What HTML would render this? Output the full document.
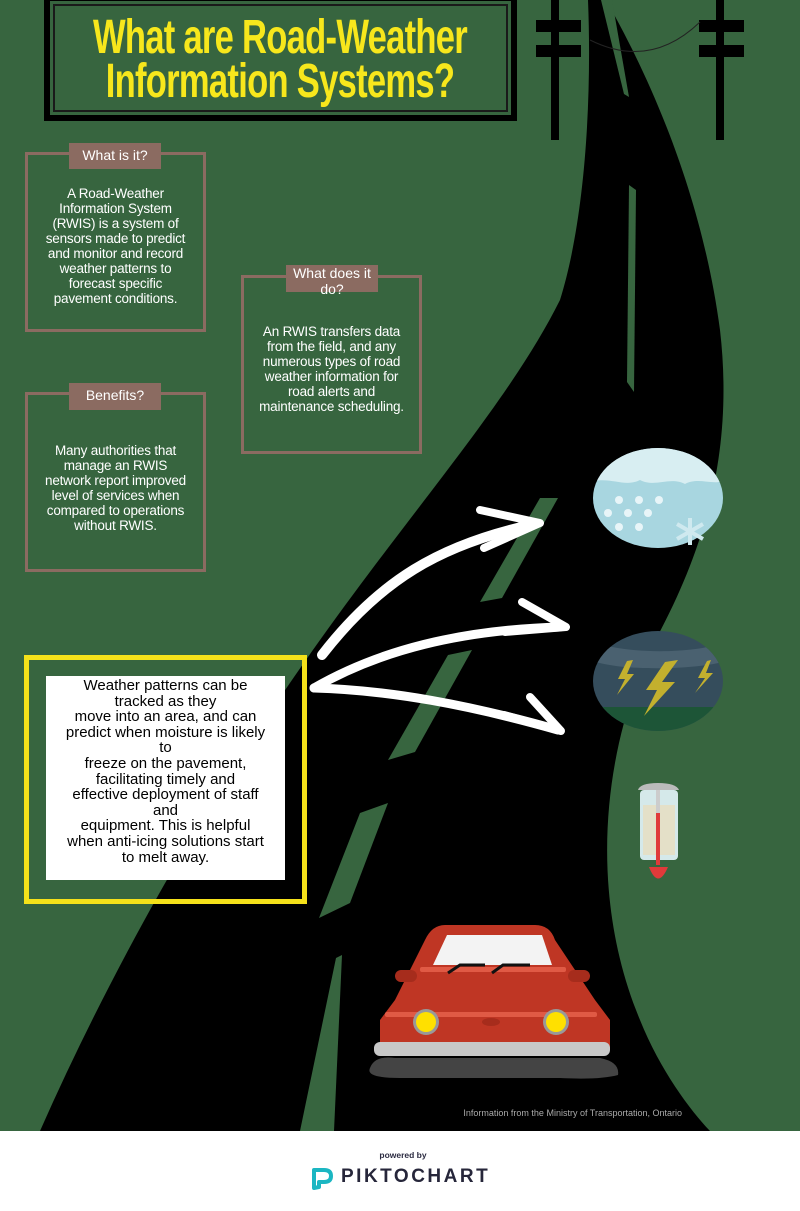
<!DOCTYPE html>
<html><head><meta charset="utf-8"><style>
*{margin:0;padding:0;box-sizing:border-box}
body{width:800px;height:1211px;position:relative;overflow:hidden;background:#fff;font-family:"Liberation Sans",sans-serif}
#main{position:absolute;left:0;top:0;width:800px;height:1131px;background:#37653f;overflow:hidden}
.box{position:absolute;border:3px solid #8b6b61}
.lbl{position:absolute;background:#8b6b61;color:#fff;font-size:14px;text-align:center;line-height:17px;padding-top:4px}
.txt{position:absolute;color:#fff;font-size:13.5px;line-height:15px;text-align:center;letter-spacing:-0.2px}
.tl{display:block;white-space:nowrap;transform:scaleX(0.72);transform-origin:center}
</style></head><body>
<div id="main">
<svg width="800" height="1131" style="position:absolute;left:0;top:0">
 <path d="M588,0 L606,0 C640,60 700,180 720,330 C735,460 700,560 650,650 C600,760 590,900 640,1020 C660,1070 690,1110 710,1131 L40,1131 C120,950 220,780 320,640 C420,500 510,400 560,300 C585,220 592,100 588,0 Z" fill="#000"/>
 <polygon points="601,0 612,0 629,97 624,94" fill="#37653f"/>
 <polygon points="629,185 636,190 634,392 627,382" fill="#37653f"/>
 <polygon points="540,498 558,498 502,598 480,602" fill="#37653f"/>
 <polygon points="448,655 472,650 415,752 388,760" fill="#37653f"/>
 <polygon points="360,813 388,803 350,903 319,918" fill="#37653f"/>
 <polygon points="336,958 342,955 334,1131 300,1131" fill="#37653f"/>
 <g fill="#000">
  <rect x="551" y="0" width="8" height="140"/><rect x="536" y="20" width="45" height="12"/><rect x="536" y="45" width="45" height="12"/>
  <rect x="716" y="0" width="8" height="140"/><rect x="699" y="20" width="45" height="12"/><rect x="699" y="45" width="45" height="12"/>
 </g>
 <path d="M590,40 Q650,70 700,22" stroke="#222" stroke-width="1" fill="none"/>
 <g stroke="#fff" fill="none" stroke-linecap="round" stroke-linejoin="round">
  <path d="M322,655 C380,580 440,545 530,525" stroke-width="10"/>
  <path d="M480,510 L540,523 L484,548" stroke-width="8"/>
  <path d="M314,688 C380,650 460,630 560,627" stroke-width="9"/>
  <path d="M522,602 L566,627 L505,632" stroke-width="8"/>
  <path d="M314,688 C390,690 470,705 558,730" stroke-width="9"/>
  <path d="M530,697 L561,731 L504,715" stroke-width="8"/>
 </g>
 <clipPath id="sn"><ellipse cx="658" cy="498" rx="65" ry="50"/></clipPath>
 <g clip-path="url(#sn)">
  <rect x="590" y="445" width="140" height="110" fill="#a8d6e0"/>
  <path d="M590,445 L730,445 L730,478 C715,488 700,476 685,484 C670,476 655,488 640,480 C625,488 610,476 590,482 Z" fill="#d8eef2"/>
 </g>
 <g fill="#e8f5f8"><circle cx="619" cy="500" r="4"/><circle cx="639" cy="500" r="4"/><circle cx="659" cy="500" r="4"/><circle cx="608" cy="513" r="4"/><circle cx="628" cy="513" r="4"/><circle cx="648" cy="513" r="4"/><circle cx="619" cy="527" r="4"/><circle cx="639" cy="527" r="4"/></g>
 <g stroke="#cfe9ef" stroke-width="4"><line x1="690" y1="518" x2="690" y2="545"/><line x1="677" y1="524" x2="703" y2="539"/><line x1="677" y1="539" x2="703" y2="524"/></g>
 <clipPath id="sc"><ellipse cx="658" cy="681" rx="65" ry="50"/></clipPath>
 <g clip-path="url(#sc)">
  <rect x="590" y="630" width="140" height="110" fill="#354d5c"/>
  <path d="M590,640 C620,655 700,655 730,640 L730,660 C700,670 620,672 590,660Z" fill="#4a6170"/>
  <rect x="590" y="707" width="140" height="40" fill="#1d5537"/>
  <polygon points="665,662 646,690 657,690 644,716 675,682 662,682 678,660" fill="#c3b02e"/>
  <polygon points="627,661 618,679 625,679 617,695 634,674 627,674 633,660" fill="#c3b02e"/>
  <polygon points="707,661 698,678 705,678 695,693 713,673 706,673 711,660" fill="#c3b02e"/>
 </g>
 <rect x="640" y="790" width="38" height="70" rx="4" fill="#d5e9ea"/>
 <rect x="643" y="805" width="32" height="50" fill="#e4e0c8"/>
 <path d="M638,790 Q640,783 658,783 Q676,783 679,790Z" fill="#bbb"/>
 <rect x="656" y="790" width="4" height="72" fill="#ccc"/>
 <rect x="656" y="813" width="4" height="52" fill="#e03a3a"/>
 <path d="M649,867 Q658,890 668,867Z" fill="#e03a3a"/>
 <path d="M380,1020 L380,1048 L610,1048 L610,1020 L595,1000 L555,940 Q550,925 535,925 L445,925 Q432,925 425,940 L395,1000 Z" fill="#bf3624"/>
 <path d="M433,965 L447,935 L542,935 L552,965 Z" fill="#f3f3f3"/>
 <rect x="420" y="967" width="146" height="5" rx="2" fill="#e05a45"/>
 <rect x="395" y="970" width="22" height="12" rx="6" fill="#a62c1c"/><rect x="568" y="970" width="22" height="12" rx="6" fill="#a62c1c"/>
 <rect x="385" y="1012" width="212" height="5" rx="2" fill="#e05a45"/>
 <circle cx="426" cy="1022" r="13" fill="#999"/><circle cx="426" cy="1022" r="10" fill="#ffe000"/>
 <circle cx="556" cy="1022" r="13" fill="#999"/><circle cx="556" cy="1022" r="10" fill="#ffe000"/>
 <ellipse cx="491" cy="1022" rx="9" ry="4" fill="#a62c1c"/>
 <path d="M448,973 L460,965 L485,965 M492,973 L503,965 L530,965" stroke="#111" stroke-width="3" fill="none"/>
 <rect x="374" y="1042" width="236" height="14" rx="6" fill="#c8c8c8"/>
 <path d="M370,1068 Q375,1055 395,1058 L600,1058 Q620,1062 618,1075 Q600,1080 560,1078 L400,1078 Q365,1078 370,1068Z" fill="#444"/>
 <text x="682" y="1116" text-anchor="end" font-family="Liberation Sans" font-size="9" fill="#aaa">Information from the Ministry of Transportation, Ontario</text>
</svg>
<div style="position:absolute;left:44px;top:-5px;width:473px;height:126px;border:6px solid #000;background:#37653f">
 <div style="position:absolute;left:3px;top:3px;right:3px;bottom:3px;border:2px solid #1a1a1a"></div>
</div>
<div style="position:absolute;left:-220px;top:16px;width:1000px;text-align:center;color:#f7e71c;font-weight:bold;font-size:48px;line-height:44px;letter-spacing:-1px">
 <span class="tl">What are Road-Weather</span><span class="tl">Information Systems?</span></div>
<div class="box" style="left:25px;top:152px;width:181px;height:180px"></div>
<div class="lbl" style="left:69px;top:143px;width:92px;height:26px">What is it?</div>
<div class="txt" style="left:30px;top:186px;width:171px">A Road-Weather<br>Information System<br>(RWIS) is a system of<br>sensors made to predict<br>and monitor and record<br>weather patterns to<br>forecast specific<br>pavement conditions.</div>
<div class="box" style="left:241px;top:275px;width:181px;height:179px"></div>
<div class="lbl" style="left:286px;top:265px;width:92px;height:27px;line-height:16px;padding-top:0">What does it<br>do?</div>
<div class="txt" style="left:246px;top:324px;width:171px">An RWIS transfers data<br>from the field, and any<br>numerous types of road<br>weather information for<br>road alerts and<br>maintenance scheduling.</div>
<div class="box" style="left:25px;top:392px;width:181px;height:180px"></div>
<div class="lbl" style="left:69px;top:383px;width:92px;height:27px">Benefits?</div>
<div class="txt" style="left:30px;top:443px;width:171px">Many authorities that<br>manage an RWIS<br>network report improved<br>level of services when<br>compared to operations<br>without RWIS.</div>
<div style="position:absolute;left:24px;top:655px;width:283px;height:249px;border:5px solid #f5e11a"></div>
<div style="position:absolute;left:46px;top:676px;width:239px;height:204px;background:#fff;color:#000;font-size:15px;line-height:15.6px;text-align:center;padding-top:2px">Weather patterns can be<br>tracked as they<br>move into an area, and can<br>predict when moisture is likely<br>to<br>freeze on the pavement,<br>facilitating timely and<br>effective deployment of staff<br>and<br>equipment. This is helpful<br>when anti-icing solutions start<br>to melt away.</div>
</div>
<div style="position:absolute;left:300px;top:1150px;width:206px;text-align:center;font-size:8.5px;font-weight:bold;color:#2a2a40">powered by</div>
<svg width="24" height="26" style="position:absolute;left:310px;top:1166px"><path d="M4,22 L4,4 L14,4 Q21,4 21,10 Q21,16 14,16 L9,16 L9,21 Z" fill="none" stroke="#1bb6c2" stroke-width="4" stroke-linejoin="round"/></svg>
<div style="position:absolute;left:341px;top:1166px;font-weight:bold;font-size:19px;letter-spacing:2.5px;color:#26263a">PIKTOCHART</div>
</body></html>
